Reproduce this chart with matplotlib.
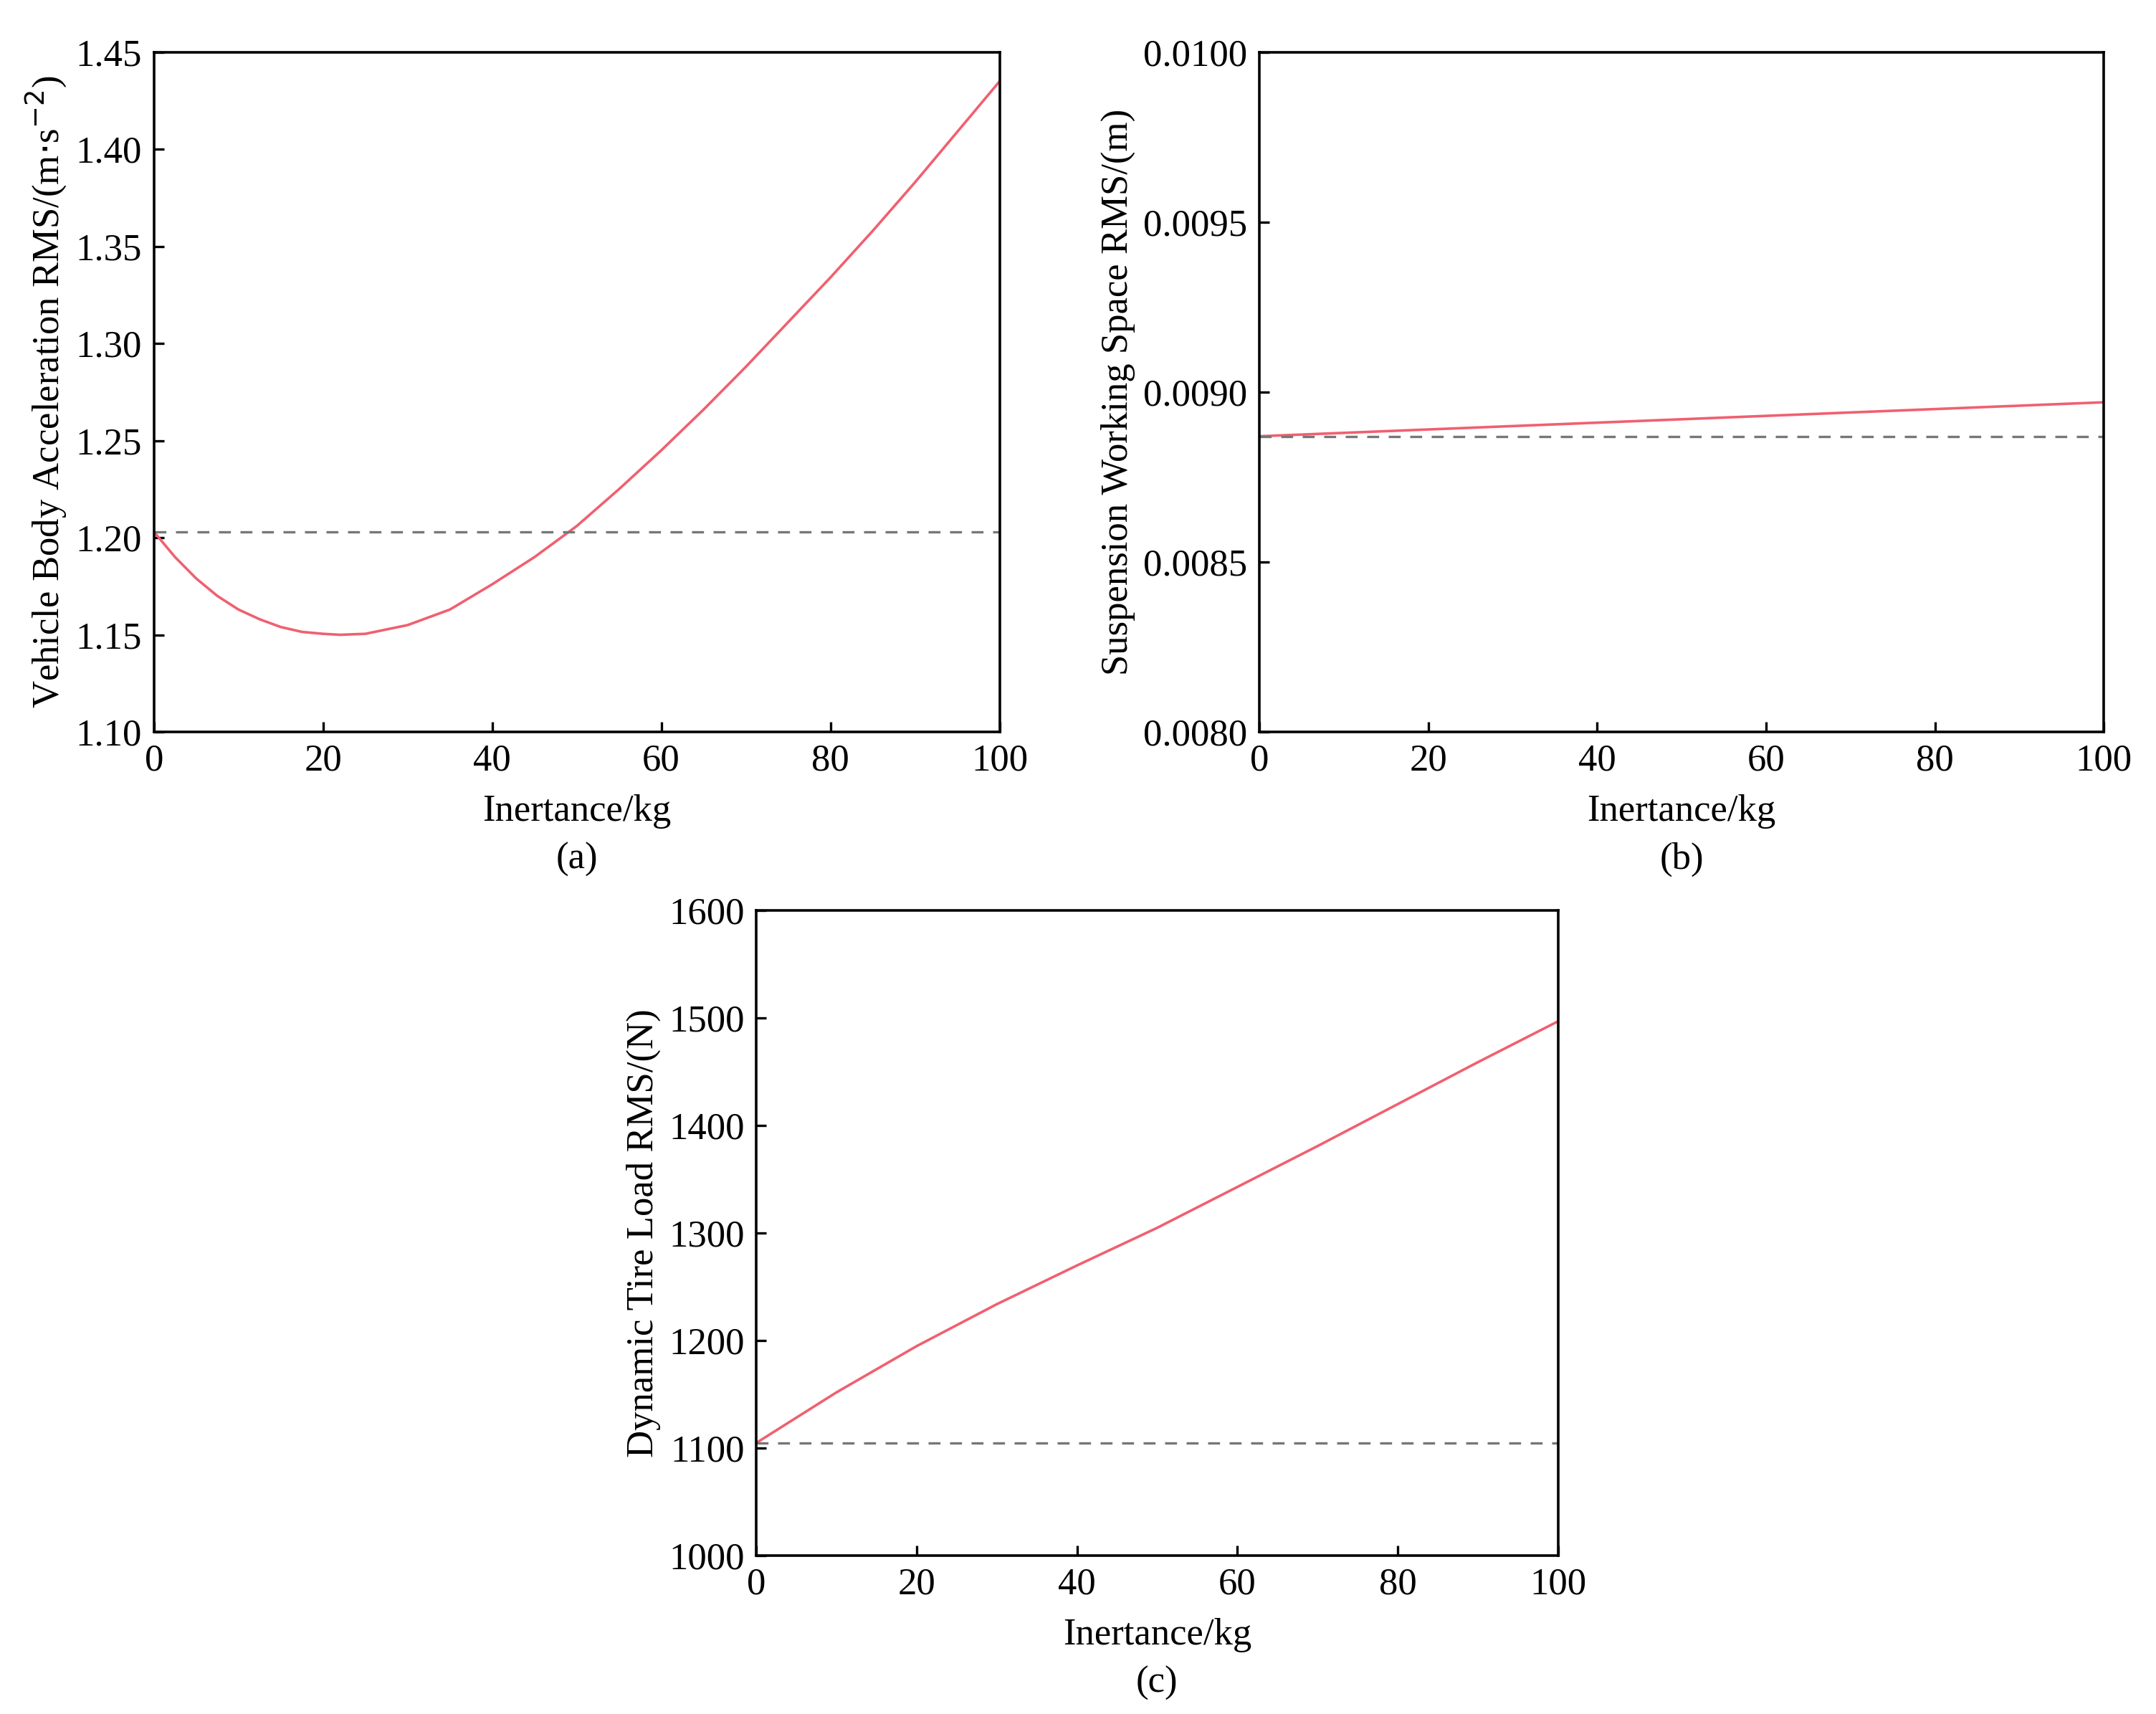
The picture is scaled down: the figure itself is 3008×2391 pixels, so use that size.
import matplotlib
matplotlib.use("Agg")
import matplotlib.pyplot as plt

plt.rcParams["font.family"] = "Liberation Serif"
plt.rcParams["font.size"] = 19

inertance = [0, 2.5, 5, 7.5, 10, 12.5, 15, 17.5, 20, 22, 25, 30, 35, 40, 45, 50,
             55, 60, 65, 70, 75, 80, 85, 90, 95, 100]
body_acc = [1.203, 1.190, 1.179, 1.170, 1.163, 1.158, 1.154, 1.1515, 1.1505, 1.150,
            1.1505, 1.155, 1.163, 1.176, 1.190, 1.206, 1.225, 1.245, 1.266, 1.288,
            1.311, 1.334, 1.358, 1.383, 1.409, 1.435]
body_acc_ref = 1.203

x_lin = [0, 20, 40, 60, 80, 100]
susp_space = [0.008870, 0.008890, 0.008910, 0.008930, 0.008950, 0.008970]
susp_space_ref = 0.008870

x_tire = [0, 10, 20, 30, 40, 50, 60, 70, 80, 90, 100]
tire_load = [1105, 1152, 1195, 1234, 1270, 1305, 1343, 1381, 1420, 1459, 1497]
tire_load_ref = 1105

fig = plt.figure(figsize=(15.04, 11.955), dpi=200)
ax_a = fig.add_axes([0.0714, 0.573, 0.3922, 0.3965])
ax_b = fig.add_axes([0.5842, 0.573, 0.3916, 0.3965])
ax_c = fig.add_axes([0.3508, 0.0923, 0.3718, 0.3764])

panels = [
    (ax_a, inertance, body_acc, body_acc_ref, (1.10, 1.45), 0.05, "%.2f",
     r"Vehicle Body Acceleration RMS/(m$\cdot$s$^{-2}$)", "(a)"),
    (ax_b, x_lin, susp_space, susp_space_ref, (0.0080, 0.0100), 0.0005, "%.4f",
     "Suspension Working Space RMS/(m)", "(b)"),
    (ax_c, x_tire, tire_load, tire_load_ref, (1000, 1600), 100, "%d",
     "Dynamic Tire Load RMS/(N)", "(c)"),
]

for ax, x, y, ref, ylim, step, fmt, ylabel, tag in panels:
    ax.plot(x, y, color="#f06070", lw=1.3)
    ax.axhline(ref, color="#777777", lw=1.2, ls=(0, (5, 4)))
    ax.set_xlim(0, 100)
    ax.set_ylim(*ylim)
    ticks = [ylim[0] + i * step for i in range(int(round((ylim[1] - ylim[0]) / step)) + 1)]
    ax.set_yticks(ticks)
    ax.set_yticklabels([fmt % t for t in ticks])
    ax.set_xticks(range(0, 101, 20))
    ax.tick_params(direction="in", length=5, width=1.2, pad=6)
    for s in ax.spines.values():
        s.set_linewidth(1.3)
    ax.set_ylabel(ylabel, labelpad=4)
    ax.set_xlabel("Inertance/kg" + "\n" + tag, linespacing=1.5, labelpad=8)

fig.savefig("out.png", dpi=200)
